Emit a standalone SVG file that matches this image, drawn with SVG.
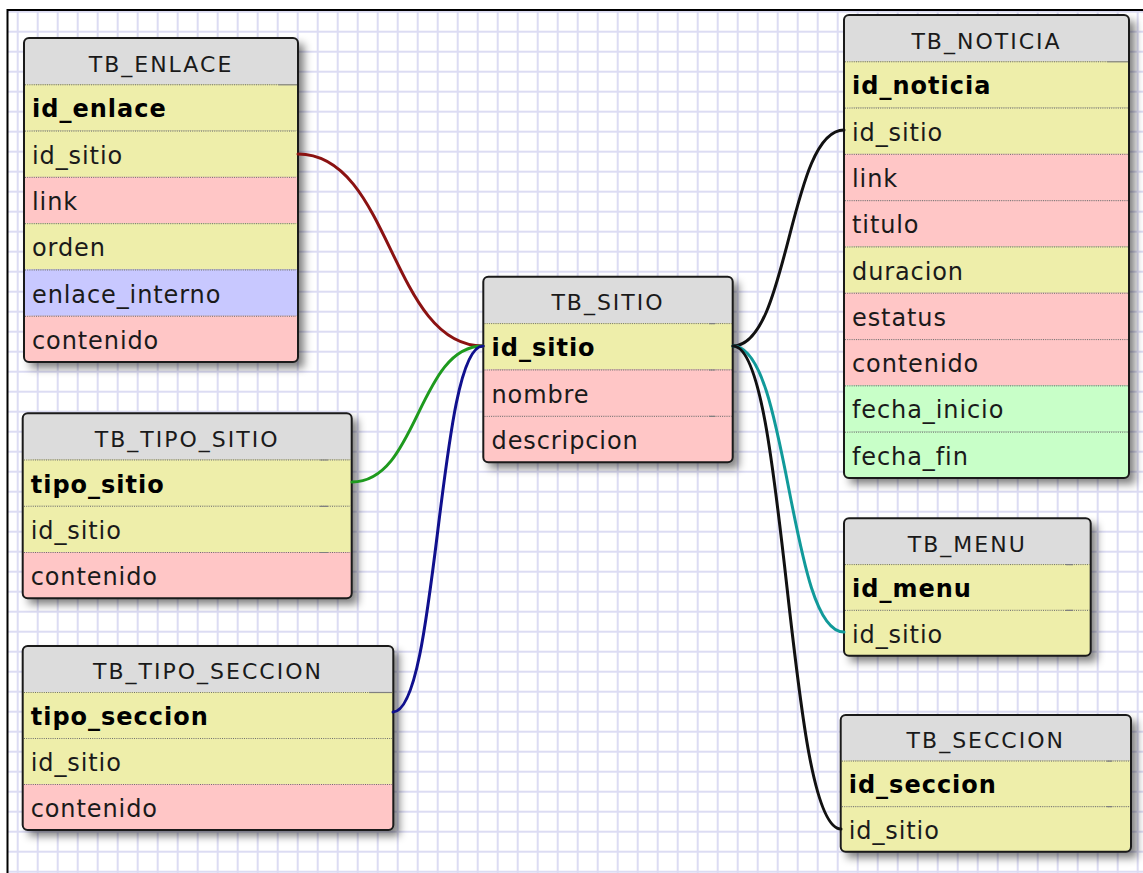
<svg xmlns="http://www.w3.org/2000/svg" width="1143" height="873" viewBox="0 0 1143 873">
  <defs>
    <pattern id="grid" patternUnits="userSpaceOnUse" x="16.7" y="10.7" width="20" height="20">
      <rect x="0" y="0" width="2" height="20" fill="#dcdcf3"/>
      <rect x="0" y="0" width="20" height="2" fill="#dcdcf3"/>
    </pattern>
    <filter id="shadow" x="-20%" y="-20%" width="140%" height="140%">
      <feGaussianBlur stdDeviation="4.5"/>
    </filter>
    <clipPath id="c-enlace"><rect x="24" y="38" width="274" height="324.1" rx="5"/></clipPath>
    <clipPath id="c-sitio"><rect x="483.3" y="276.7" width="249.4" height="185.6" rx="5"/></clipPath>
    <clipPath id="c-noticia"><rect x="844" y="15" width="285" height="463" rx="5"/></clipPath>
    <clipPath id="c-menu"><rect x="844" y="518.3" width="246.7" height="137.4" rx="5"/></clipPath>
    <clipPath id="c-seccion"><rect x="840.7" y="715" width="290.3" height="136.8" rx="5"/></clipPath>
    <clipPath id="c-tiposit"><rect x="22.7" y="413.3" width="329" height="185" rx="5"/></clipPath>
    <clipPath id="c-tiposec"><rect x="22.7" y="646" width="370.6" height="184" rx="5"/></clipPath>
  </defs>
  <style>
    .shd { fill: #000; opacity: 0.5; filter: url(#shadow); }
    .hd { fill: #dcdcdc; }
    .y { fill: #eeeeaa; }
    .p { fill: #ffc6c6; }
    .b { fill: #c8c8ff; }
    .g { fill: #c8ffc8; }
    .frame { fill: none; stroke: #1a1a1a; stroke-width: 2; }
    .sep { stroke: #6e6e6e; stroke-width: 1; stroke-dasharray: 1 1.2; fill: none; }
    .dash { stroke: #808080; stroke-width: 1.2; fill: none; }
    .title { font-family: "DejaVu Sans", Verdana, sans-serif; font-size: 22px; letter-spacing: 2px; fill: #1a1a1a; text-anchor: middle; }
    .col { font-family: "DejaVu Sans", Verdana, sans-serif; font-size: 24px; letter-spacing: 0.9px; fill: #1a1a1a; }
    .key { font-family: "DejaVu Sans", Verdana, sans-serif; font-size: 24px; font-weight: bold; letter-spacing: 1px; fill: #000; }
    .link { fill: none; stroke-width: 3; stroke-linecap: round; }
  </style>

  <!-- canvas: white page, grid paper and its frame -->
  <rect x="0" y="0" width="1143" height="873" fill="#fff"/>
  <rect x="7.5" y="10" width="1140" height="870" fill="url(#grid)"/>
  <path d="M7.5 873 V10 H1143" fill="none" stroke="#000" stroke-width="2"/>

  <!-- TB_ENLACE -->
  <g id="tb_enlace">
    <rect class="shd" x="30" y="44" width="274" height="324"/>
    <g clip-path="url(#c-enlace)">
      <rect class="hd" x="24" y="38" width="274" height="46.3"/>
      <rect class="y" x="24" y="84.3" width="274" height="46.3"/>
      <rect class="y" x="24" y="130.6" width="274" height="46.3"/>
      <rect class="p" x="24" y="176.9" width="274" height="46.3"/>
      <rect class="y" x="24" y="223.2" width="274" height="46.3"/>
      <rect class="b" x="24" y="269.5" width="274" height="46.3"/>
      <rect class="p" x="24" y="315.8" width="274" height="46.3"/>
    </g>
    <path class="sep" d="M25 84.8H278 M25 131.1H296 M25 177.4H296 M25 223.7H296 M25 270H296 M25 316.3H296"/>
    <path class="dash" d="M278 84.8H297"/>
    <rect class="frame" x="24" y="38" width="274" height="324.1" rx="5"/>
    <text class="title" x="161" y="71.5">TB_ENLACE</text>
    <text class="key" x="32" y="117.3">id_enlace</text>
    <text class="col" x="32" y="163.6">id_sitio</text>
    <text class="col" x="32" y="209.9">link</text>
    <text class="col" x="32" y="256.2">orden</text>
    <text class="col" x="32" y="302.5">enlace_interno</text>
    <text class="col" x="32" y="348.8">contenido</text>
  </g>

  <!-- TB_TIPO_SITIO -->
  <g id="tb_tipo_sitio">
    <rect class="shd" x="28.7" y="419.3" width="329" height="185"/>
    <g clip-path="url(#c-tiposit)">
      <rect class="hd" x="22.7" y="413.3" width="329" height="46.3"/>
      <rect class="y" x="22.7" y="459.55" width="329" height="46.3"/>
      <rect class="y" x="22.7" y="505.8" width="329" height="46.3"/>
      <rect class="p" x="22.7" y="552.05" width="329" height="46.3"/>
    </g>
    <path class="sep" d="M24 460H350 M24 506.3H350 M24 552.5H350"/>
    <path class="dash" d="M320 460H328 M320 506.3H328 M320 552.5H328"/>
    <rect class="frame" x="22.7" y="413.3" width="329" height="185" rx="5"/>
    <text class="title" x="187.2" y="446.5">TB_TIPO_SITIO</text>
    <text class="key" x="30.7" y="492.5">tipo_sitio</text>
    <text class="col" x="30.7" y="538.8">id_sitio</text>
    <text class="col" x="30.7" y="585">contenido</text>
  </g>

  <!-- TB_TIPO_SECCION -->
  <g id="tb_tipo_seccion">
    <rect class="shd" x="28.7" y="652" width="370.6" height="184"/>
    <g clip-path="url(#c-tiposec)">
      <rect class="hd" x="22.7" y="646" width="370.6" height="46"/>
      <rect class="y" x="22.7" y="692" width="370.6" height="46"/>
      <rect class="y" x="22.7" y="738" width="370.6" height="46"/>
      <rect class="p" x="22.7" y="784" width="370.6" height="46"/>
    </g>
    <path class="sep" d="M24 692.5H369 M24 738.5H392 M24 784.5H392"/>
    <path class="dash" d="M369 692.5H392"/>
    <rect class="frame" x="22.7" y="646" width="370.6" height="184" rx="5"/>
    <text class="title" x="208" y="679">TB_TIPO_SECCION</text>
    <text class="key" x="30.7" y="725">tipo_seccion</text>
    <text class="col" x="30.7" y="771">id_sitio</text>
    <text class="col" x="30.7" y="817">contenido</text>
  </g>

  <!-- TB_SITIO -->
  <g id="tb_sitio">
    <rect class="shd" x="489.3" y="282.7" width="249.4" height="185.6"/>
    <g clip-path="url(#c-sitio)">
      <rect class="hd" x="483.3" y="276.7" width="249.4" height="46.4"/>
      <rect class="y" x="483.3" y="323.1" width="249.4" height="46.4"/>
      <rect class="p" x="483.3" y="369.5" width="249.4" height="46.4"/>
      <rect class="p" x="483.3" y="415.9" width="249.4" height="46.4"/>
    </g>
    <path class="sep" d="M484.5 323.6H731.5 M484.5 370H731.5 M484.5 416.4H731.5"/>
    <path class="dash" d="M709 323.6H715 M709 370H715 M709 416.4H715"/>
    <rect class="frame" x="483.3" y="276.7" width="249.4" height="185.6" rx="5"/>
    <text class="title" x="608" y="310.2">TB_SITIO</text>
    <text class="key" x="491.5" y="356.1">id_sitio</text>
    <text class="col" x="491.5" y="402.5">nombre</text>
    <text class="col" x="491.5" y="448.9">descripcion</text>
  </g>

  <!-- TB_NOTICIA -->
  <g id="tb_noticia">
    <rect class="shd" x="850" y="21" width="285" height="463"/>
    <g clip-path="url(#c-noticia)">
      <rect class="hd" x="844" y="15" width="285" height="46.3"/>
      <rect class="y" x="844" y="61.3" width="285" height="46.3"/>
      <rect class="y" x="844" y="107.6" width="285" height="46.3"/>
      <rect class="p" x="844" y="153.9" width="285" height="46.3"/>
      <rect class="p" x="844" y="200.2" width="285" height="46.3"/>
      <rect class="y" x="844" y="246.5" width="285" height="46.3"/>
      <rect class="p" x="844" y="292.8" width="285" height="46.3"/>
      <rect class="p" x="844" y="339.1" width="285" height="46.3"/>
      <rect class="g" x="844" y="385.4" width="285" height="46.3"/>
      <rect class="g" x="844" y="431.7" width="285" height="46.3"/>
    </g>
    <path class="sep" d="M845 61.8H1107 M845 108.1H1128 M845 154.4H1128 M845 200.7H1128 M845 247H1128 M845 293.3H1128 M845 339.6H1128 M845 385.9H1128 M845 432.2H1128"/>
    <path class="dash" d="M1107 61.8H1128"/>
    <rect class="frame" x="844" y="15" width="285" height="463" rx="5"/>
    <text class="title" x="986.5" y="48.5">TB_NOTICIA</text>
    <text class="key" x="852" y="94.3">id_noticia</text>
    <text class="col" x="852" y="140.6">id_sitio</text>
    <text class="col" x="852" y="186.9">link</text>
    <text class="col" x="852" y="233.2">titulo</text>
    <text class="col" x="852" y="279.5">duracion</text>
    <text class="col" x="852" y="325.8">estatus</text>
    <text class="col" x="852" y="372.1">contenido</text>
    <text class="col" x="852" y="418.4">fecha_inicio</text>
    <text class="col" x="852" y="464.7">fecha_fin</text>
  </g>

  <!-- TB_MENU -->
  <g id="tb_menu">
    <rect class="shd" x="850" y="524.3" width="246.7" height="137.4"/>
    <g clip-path="url(#c-menu)">
      <rect class="hd" x="844" y="518.3" width="246.7" height="45.8"/>
      <rect class="y" x="844" y="564.1" width="246.7" height="45.8"/>
      <rect class="y" x="844" y="609.9" width="246.7" height="45.8"/>
    </g>
    <path class="sep" d="M845 564.6H1089.5 M845 610.4H1089.5"/>
    <path class="dash" d="M1066 564.6H1073 M1066 610.4H1073"/>
    <rect class="frame" x="844" y="518.3" width="246.7" height="137.4" rx="5"/>
    <text class="title" x="967.3" y="551.5">TB_MENU</text>
    <text class="key" x="852" y="597">id_menu</text>
    <text class="col" x="852" y="642.8">id_sitio</text>
  </g>

  <!-- TB_SECCION -->
  <g id="tb_seccion">
    <rect class="shd" x="846.7" y="721" width="290.3" height="136.8"/>
    <g clip-path="url(#c-seccion)">
      <rect class="hd" x="840.7" y="715" width="290.3" height="45.6"/>
      <rect class="y" x="840.7" y="760.6" width="290.3" height="45.6"/>
      <rect class="y" x="840.7" y="806.2" width="290.3" height="45.6"/>
    </g>
    <path class="sep" d="M842 761.1H1130 M842 806.7H1130"/>
    <path class="dash" d="M1107 761.1H1112 M1107 806.7H1112"/>
    <rect class="frame" x="840.7" y="715" width="290.3" height="136.8" rx="5"/>
    <text class="title" x="985.8" y="748">TB_SECCION</text>
    <text class="key" x="848.7" y="793.4">id_seccion</text>
    <text class="col" x="848.7" y="839">id_sitio</text>
  </g>

  <!-- relationships, all meeting at TB_SITIO.id_sitio -->
  <g id="connectors">
    <path class="link" stroke="#8b1212" d="M298 154 C391 154 391 346 483 346"/>
    <path class="link" stroke="#1e9a1e" d="M352 482 C418 482 418 346 483 346"/>
    <path class="link" stroke="#10108e" d="M393 712 C438 712 438 346 483 346"/>
    <path class="link" stroke="#111" d="M733 346 C789 346 789 130 844 130"/>
    <path class="link" stroke="#119a9a" d="M733 346 C789 346 789 632 844 632"/>
    <path class="link" stroke="#111" d="M733 346 C787 346 787 829 841 829"/>
  </g>
</svg>
